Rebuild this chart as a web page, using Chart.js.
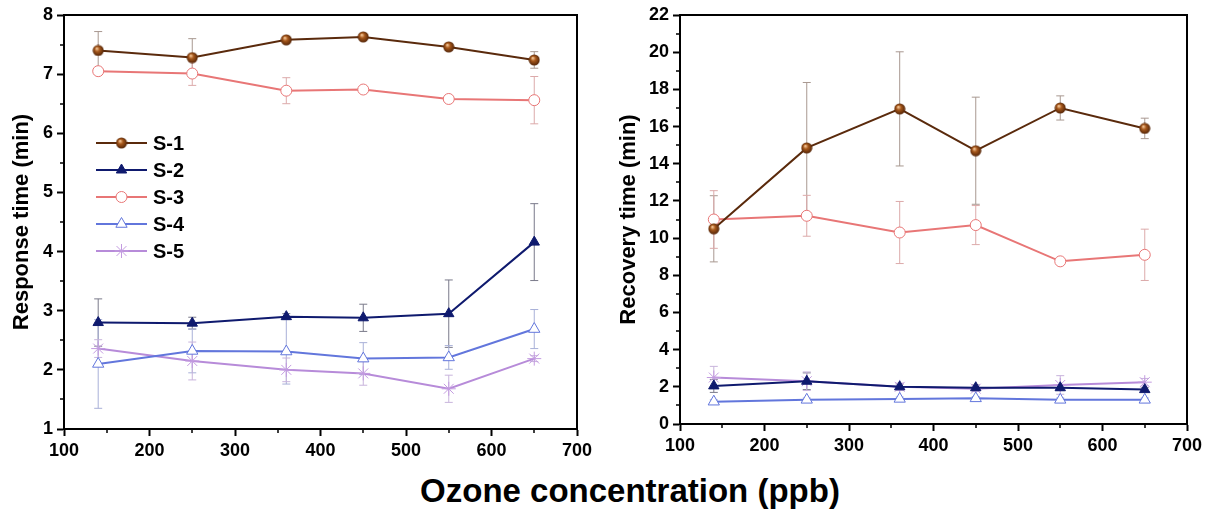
<!DOCTYPE html>
<html>
<head>
<meta charset="utf-8">
<script src="https://cdn.jsdelivr.net/npm/chart.js@4.4.1/dist/chart.umd.min.js"></script>
<style>
  body { margin: 0; background: #fff; }
  #wrap { position: relative; width: 1213px; height: 513px; }
  #c1 { position: absolute; left: 0; top: 0; }
  #c2 { position: absolute; left: 600px; top: 0; }
  #xtitle {
    position: absolute; left: 330px; width: 600px; top: 472px;
    text-align: center; font: bold 33px "Liberation Sans", Arial, sans-serif;
    line-height: 38px; color: #000;
  }
</style>
</head>
<body>
<div id="wrap">
  <canvas id="c1" width="600" height="470"></canvas>
  <canvas id="c2" width="613" height="470"></canvas>
  <div id="xtitle">Ozone concentration (ppb)</div>
</div>
<script>
// ozone concentration (ppb)
let ozone = [140, 250, 360, 450, 550, 650];
let names = ['S-1', 'S-2', 'S-3', 'S-4', 'S-5'];

// response time (min)
let resp1 = [7.40, 7.28, 7.58, 7.63, 7.46, 7.24];
let resp2 = [2.80, 2.79, 2.90, 2.88, 2.95, 4.16];
let resp3 = [7.05, 7.01, 6.72, 6.74, 6.58, 6.56];
let resp4 = [2.10, 2.32, 2.31, 2.19, 2.21, 2.69];
let resp5 = [2.36, 2.15, 2.00, 1.94, 1.68, 2.19];
let respErr1 = [0.32, 0.32, 0.03, 0.03, 0.06, 0.14];
let respErr2 = [0.40, 0.10, 0.05, 0.23, 0.57, 0.65];
let respErr3 = [0.03, 0.20, 0.22, 0.05, 0.04, 0.40];
let respErr4 = [0.75, 0.37, 0.55, 0.27, 0.20, 0.33];
let respErr5 = [0.15, 0.32, 0.20, 0.20, 0.23, 0.05];

// recovery time (min)
let rec1 = [10.5, 14.85, 16.95, 14.7, 17.0, 15.9];
let rec2 = [2.05, 2.30, 2.00, 1.95, 1.95, 1.85];
let rec3 = [11.0, 11.2, 10.3, 10.7, 8.75, 9.1];
let rec4 = [1.20, 1.30, 1.35, 1.38, 1.30, 1.30];
let rec5 = [2.50, 2.30, 2.00, 1.90, 2.10, 2.25];
let recErr1 = [1.78, 3.52, 3.07, 2.88, 0.65, 0.55];
let recErr2 = [0.35, 0.45, 0.15, 0.15, 0.15, 0.10];
let recErr3 = [1.55, 1.10, 1.67, 1.05, 0.10, 1.38];
let recErr4 = [0.10, 0.10, 0.10, 0.10, 0.10, 0.10];
let recErr5 = [0.60, 0.50, 0.20, 0.15, 0.50, 0.20];

const FONT = '"Liberation Sans", Arial, sans-serif';
const lineColors = ['#5a2a0c', '#0f1a6e', '#e87676', '#6276dc', '#b78bd9'];
const errColors = ['#a89890', '#7a7a8a', '#dcaaaa', '#a8b0d8', '#c8b4dc'];

// brown ball marker for S-1
function ballImage() {
    const c = document.createElement('canvas');
    c.width = 12; c.height = 12;
    const g = c.getContext('2d');
    const grad = g.createRadialGradient(4.5, 4, 0.5, 6, 6, 6);
    grad.addColorStop(0, '#f0c090');
    grad.addColorStop(0.35, '#a8591c');
    grad.addColorStop(1, '#4a1e04');
    g.fillStyle = grad;
    g.beginPath();
    g.arc(6, 6, 5.5, 0, Math.PI * 2);
    g.fill();
    return c;
}
const ball = ballImage();

const markers = [
    { pointStyle: ball, pointRadius: 6, pointBackgroundColor: '#7a3a0c', pointBorderColor: '#4a1e04', pointBorderWidth: 0 },
    { pointStyle: 'triangle', pointRadius: 6, pointBackgroundColor: '#0f1a6e', pointBorderColor: '#0f1a6e', pointBorderWidth: 1 },
    { pointStyle: 'circle', pointRadius: 5.5, pointBackgroundColor: '#fff', pointBorderColor: '#e87676', pointBorderWidth: 1 },
    { pointStyle: 'triangle', pointRadius: 6.5, pointBackgroundColor: '#fff', pointBorderColor: '#6276dc', pointBorderWidth: 1 },
    { pointStyle: 'star', pointRadius: 7, pointBackgroundColor: '#fff', pointBorderColor: '#c39be0', pointBorderWidth: 1 }
];

function makeDatasets(series) {
    return series.map((vals, i) => Object.assign({
        label: names[i],
        data: ozone.map((x, j) => ({ x: x, y: vals[j] })),
        borderColor: lineColors[i],
        borderWidth: 2,
        tension: 0,
        fill: false
    }, markers[i]));
}

// error bars, top+right frame and minor ticks
const extras = {
    id: 'extras',
    beforeDatasetsDraw(chart, args, opts) {
        const ctx = chart.ctx, xs = chart.scales.x, ys = chart.scales.y;
        ctx.save();
        ctx.lineWidth = 1;
        opts.errors.forEach((errs, i) => {
            const vals = opts.values[i];
            ctx.strokeStyle = errColors[i];
            errs.forEach((e, j) => {
                const px = xs.getPixelForValue(ozone[j]);
                const top = ys.getPixelForValue(vals[j] + e);
                const bot = ys.getPixelForValue(vals[j] - e);
                ctx.beginPath();
                ctx.moveTo(px, top); ctx.lineTo(px, bot);
                ctx.moveTo(px - 4, top); ctx.lineTo(px + 4, top);
                ctx.moveTo(px - 4, bot); ctx.lineTo(px + 4, bot);
                ctx.stroke();
            });
        });
        ctx.restore();
    },
    afterDraw(chart, args, opts) {
        const ctx = chart.ctx, a = chart.chartArea, xs = chart.scales.x, ys = chart.scales.y;
        ctx.save();
        ctx.strokeStyle = '#000';
        ctx.lineWidth = 2;
        ctx.beginPath();
        ctx.moveTo(a.left - 1, a.top);
        ctx.lineTo(a.right, a.top);
        ctx.lineTo(a.right, a.bottom + 1);
        ctx.stroke();
        ctx.lineWidth = 1.5;
        ctx.beginPath();
        for (let v = xs.min + 50; v < xs.max; v += 100) {
            const px = Math.round(xs.getPixelForValue(v));
            ctx.moveTo(px, a.bottom); ctx.lineTo(px, a.bottom + 4);
        }
        for (let v = ys.min + opts.yMinor; v < ys.max; v += opts.yMinor * 2) {
            const py = Math.round(ys.getPixelForValue(v));
            ctx.moveTo(a.left, py); ctx.lineTo(a.left - 4, py);
        }
        ctx.stroke();

        if (opts.legend) {
            chart.data.datasets.forEach((ds, i) => {
                const y = 143 + i * 27;
                ctx.strokeStyle = ds.borderColor;
                ctx.lineWidth = 2;
                ctx.beginPath();
                ctx.moveTo(96, y); ctx.lineTo(147, y);
                ctx.stroke();
                ctx.fillStyle = ds.pointBackgroundColor;
                ctx.strokeStyle = ds.pointBorderColor;
                ctx.lineWidth = ds.pointBorderWidth;
                Chart.helpers.drawPoint(ctx, {
                    pointStyle: ds.pointStyle, radius: ds.pointRadius, rotation: 0,
                    borderWidth: ds.pointBorderWidth
                }, 121.5, y);
                ctx.fillStyle = '#000';
                ctx.font = 'bold 20px ' + FONT;
                ctx.textBaseline = 'middle';
                ctx.fillText(ds.label, 153, y + 1);
            });
        }
        ctx.restore();
    }
};

function makeChart(id, series, errors, yTitle, yMin, yMax, yStep, yWidth, xHeight, padRight, titlePad) {
    let ctx = document.getElementById(id).getContext('2d');
    return new Chart(ctx, {
        type: 'line',
        data: { datasets: makeDatasets(series) },
        plugins: [extras],
        options: {
            responsive: false,
            animation: false,
            layout: { padding: { top: 15, right: padRight, left: 0, bottom: 0 } },
            plugins: {
                legend: { display: false },
                tooltip: { enabled: false },
                extras: { errors: errors, values: series, yMinor: yStep / 2, legend: id === 'c1' }
            },
            scales: {
                x: {
                    type: 'linear', min: 100, max: 700,
                    ticks: { stepSize: 100, color: '#000', padding: 4, maxRotation: 0,
                             font: { family: FONT, size: 18, weight: 'bold' } },
                    grid: { drawOnChartArea: false, tickLength: 7, tickWidth: 2, tickColor: '#000' },
                    border: { display: true, color: '#000', width: 2 },
                    afterFit: s => { s.height = xHeight; }
                },
                y: {
                    min: yMin, max: yMax,
                    ticks: { stepSize: yStep, color: '#000', padding: 4,
                             font: { family: FONT, size: 18, weight: 'bold' } },
                    grid: { drawOnChartArea: false, tickLength: 7, tickWidth: 2, tickColor: '#000' },
                    border: { display: true, color: '#000', width: 2 },
                    title: { display: true, text: yTitle, color: '#000', padding: { top: titlePad, bottom: 0 },
                             font: { family: FONT, size: 22, weight: 'bold' } },
                    afterFit: s => { s.width = yWidth; }
                }
            }
        }
    });
}

let chart1 = makeChart('c1', [resp1, resp2, resp3, resp4, resp5],
    [respErr1, respErr2, respErr3, respErr4, respErr5],
    'Response time (min)', 1, 8, 1, 64, 41, 23, 9);

let chart2 = makeChart('c2', [rec1, rec2, rec3, rec4, rec5],
    [recErr1, recErr2, recErr3, recErr4, recErr5],
    'Recovery time (min)', 0, 22, 2, 80, 46, 26, 16);
</script>
</body>
</html>
